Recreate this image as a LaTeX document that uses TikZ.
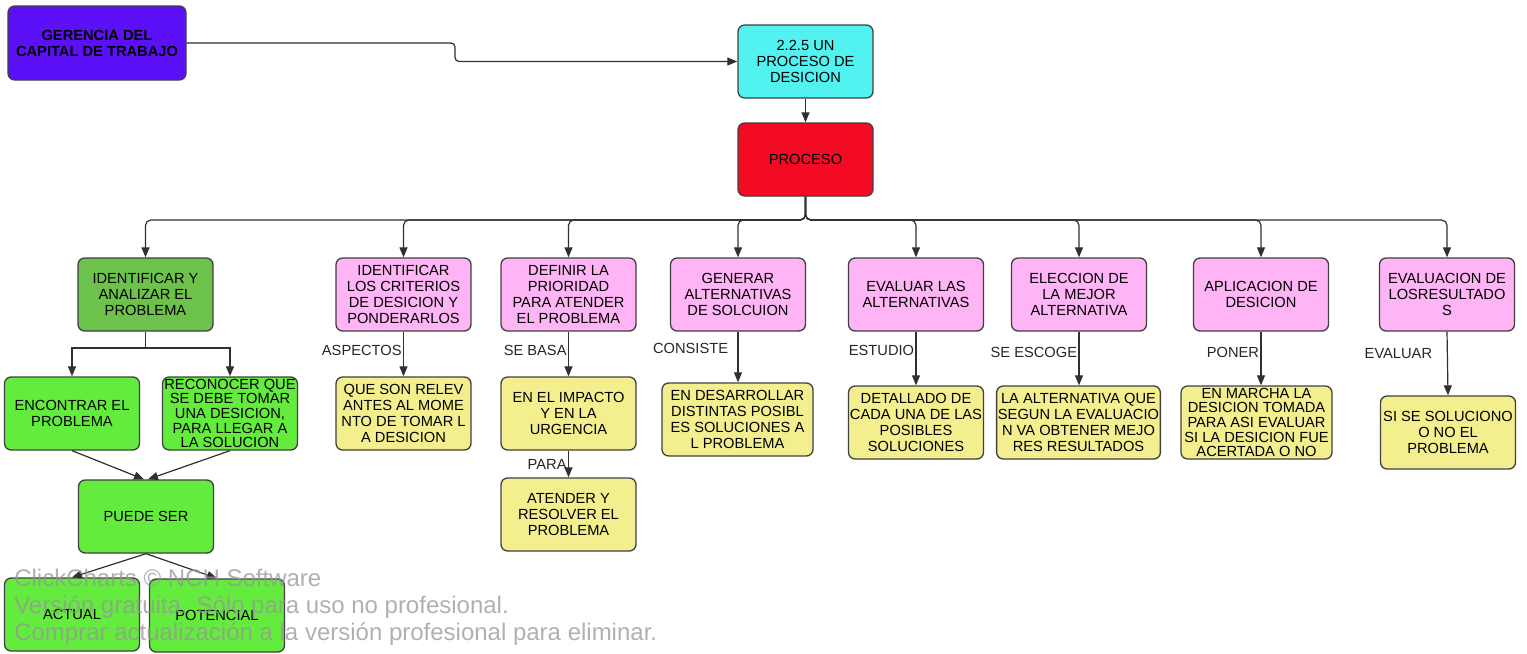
\documentclass[tikz,border=0pt]{standalone}
\usepackage{fontspec}
\setmainfont{Liberation Sans}
\usetikzlibrary{arrows.meta}
\definecolor{cpurple}{HTML}{5C10F8}
\definecolor{ccyan}{HTML}{52F2F0}
\definecolor{cred}{HTML}{F50A23}
\definecolor{cdgreen}{HTML}{6CC24A}
\definecolor{cgreen}{HTML}{63EC3D}
\definecolor{cpink}{HTML}{FFB4F6}
\definecolor{cyellow}{HTML}{F3EF8E}
\definecolor{cborder}{HTML}{404040}
\definecolor{cline}{HTML}{303030}
\definecolor{cwater}{HTML}{969696}
\begin{document}
\begin{tikzpicture}[x=0.75pt,y=-0.75pt,
  box/.style={draw=cborder, line width=1pt, rounded corners=5pt,
    minimum width=101.25pt, minimum height=54.75pt, align=center,
    inner sep=1pt, font=\fontsize{11}{12}\selectfont},
  tight/.style={font=\fontsize{11}{11}\selectfont},
  wide/.style={minimum width=113.25pt},
  wider/.style={minimum width=122.25pt},
  conn/.style={draw=cline, line width=0.9pt, -{Triangle[length=7.5pt,width=6pt]}},
  lbl/.style={font=\fontsize{11}{12}\selectfont, inner sep=1pt, text=black!85}
]
\useasboundingbox (0,0) rectangle (1527,653);

% top
\node[box, fill=cpurple, minimum width=133.5pt, minimum height=55.5pt, font=\fontsize{11}{12}\selectfont\bfseries] (ger) at (97,43) {GERENCIA DEL\\CAPITAL DE TRABAJO};
\node[box, fill=ccyan] (dec) at (805.5,61.5) {2.2.5 UN\\PROCESO DE\\DESICION};
\node[box, fill=cred] (proc) at (805.5,159.5) {PROCESO};

% level 1
\node[box, fill=cdgreen] (ida) at (145.5,294.5) {IDENTIFICAR Y\\ANALIZAR EL\\PROBLEMA};
\node[box, fill=cpink] (p1) at (403.5,294.5) {IDENTIFICAR\\LOS CRITERIOS\\DE DESICION Y\\PONDERARLOS};
\node[box, fill=cpink] (p2) at (568.5,294.5) {DEFINIR LA\\PRIORIDAD\\PARA ATENDER\\EL PROBLEMA};
\node[box, fill=cpink] (p3) at (738,294.5) {GENERAR\\ALTERNATIVAS\\DE SOLCUION};
\node[box, fill=cpink] (p4) at (916,294.5) {EVALUAR LAS\\ALTERNATIVAS};
\node[box, fill=cpink] (p5) at (1079,294.5) {ELECCION DE\\LA MEJOR\\ALTERNATIVA};
\node[box, fill=cpink] (p6) at (1261,294.5) {APLICACION DE\\DESICION};
\node[box, fill=cpink] (p7) at (1447,294.5) {EVALUACION DE\\LOSRESULTADO\\S};

% level 2
\node[box, fill=cyellow] (y1) at (403.5,413.5) {QUE SON RELEV\\ANTES AL MOME\\NTO DE TOMAR L\\A DESICION};
\node[box, fill=cyellow] (y2) at (568.5,413.5) {EN EL IMPACTO\\Y EN LA\\URGENCIA};
\node[box, fill=cyellow] (y3) at (568.5,514.5) {ATENDER Y\\RESOLVER EL\\PROBLEMA};
\node[box, fill=cyellow, wide] (y4) at (737.5,419.5) {EN DESARROLLAR\\DISTINTAS POSIBL\\ES SOLUCIONES A\\L PROBLEMA};
\node[box, fill=cyellow] (y5) at (916,422.5) {DETALLADO DE\\CADA UNA DE LAS\\POSIBLES\\SOLUCIONES};
\node[box, fill=cyellow, wider] (y6) at (1078.5,422.5) {LA ALTERNATIVA QUE\\SEGUN LA EVALUACIO\\N VA OBTENER MEJO\\RES RESULTADOS};
\node[box, fill=cyellow, wide, tight] (y7) at (1256.5,422.5) {EN MARCHA LA\\DESICION TOMADA\\PARA ASI EVALUAR\\SI LA DESICION FUE\\ACERTADA O NO};
\node[box, fill=cyellow] (y8) at (1448,432.5) {SI SE SOLUCIONO\\O NO EL\\PROBLEMA};

% green subtree
\node[box, fill=cgreen] (enc) at (72,413.5) {ENCONTRAR EL\\PROBLEMA};
\node[box, fill=cgreen, tight] (rec) at (230,413.5) {RECONOCER QUE\\SE DEBE TOMAR\\UNA DESICION,\\PARA LLEGAR A\\LA SOLUCION};
\node[box, fill=cgreen] (pue) at (146,516.5) {PUEDE SER};
\node[box, fill=cgreen] (act) at (72,614.5) {ACTUAL};
\node[box, fill=cgreen] (pot) at (217,615.5) {POTENCIAL};

% connectors
\coordinate (gj) at (455,52);
\draw[conn, rounded corners=3pt] (ger.east) -| (gj) |- (dec.west);
\draw[conn] (dec.south) -- (proc.north);
\coordinate (trunk) at (805.5,220);
\foreach \c in {ida,p1,p2,p3,p4,p5,p6,p7}
  \draw[conn, rounded corners=4pt] (proc.south) -- (trunk) -| (\c.north);

\coordinate (idj) at (145.5,348);
\draw[conn] (ida.south) -- (idj) -| (enc.north);
\draw[conn] (ida.south) -- (idj) -| (rec.north);
\draw[conn] (enc.south) -- ([xshift=-1.5pt]pue.north);
\draw[conn] (rec.south) -- ([xshift=1.5pt]pue.north);
\draw[conn] (pue.south) -- (act.north);
\draw[conn] (pue.south) -- (pot.north);

\draw[conn] (p1.south) -- node[lbl, pos=0.43, left] (l1) {ASPECTOS} (y1.north);
\draw[conn] (p2.south) -- node[lbl, pos=0.43, left] (l2) {SE BASA} (y2.north);
\draw[conn] (y2.south) -- node[lbl, pos=0.5, left] (l3) {PARA} (y3.north);
\draw[conn] (p3.south) -- node[lbl, pos=0.33, left=6pt] (l4) {CONSISTE} (p3.south |- y4.north);
\draw[conn] (p4.south) -- node[lbl, pos=0.35, left] (l5) {ESTUDIO} (y5.north);
\draw[conn] (p5.south) -- node[lbl, pos=0.38, left] (l6) {SE ESCOGE} (p5.south |- y6.north);
\draw[conn] (p6.south) -- node[lbl, pos=0.38, left] (l7) {PONER} (p6.south |- y7.north);
\draw[conn] (p7.south) -- node[lbl, pos=0.35, left=10pt] (l8) {EVALUAR} (y8.north);

% watermark
\node[anchor=north west, align=left, inner sep=0pt, text=cwater, text opacity=0.75,
  font=\fontsize{18}{20.25}\selectfont] (wm) at (14,569)
  {ClickCharts © NCH Software\\Versión gratuita. Sólo para uso no profesional.\\Comprar actualización a la versión profesional para eliminar.};
\end{tikzpicture}
\end{document}
